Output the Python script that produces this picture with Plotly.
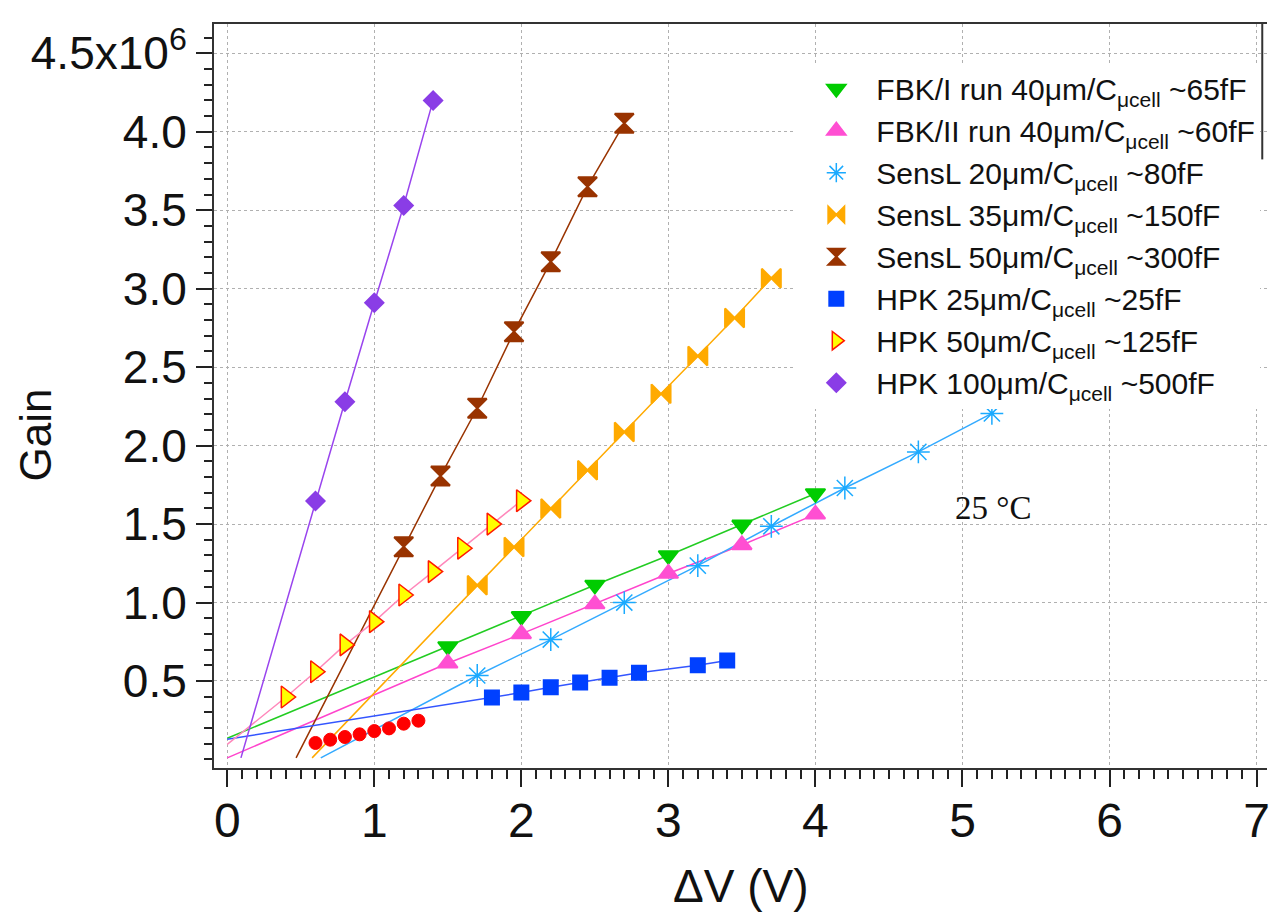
import plotly.graph_objects as go

SCALE = 1e6  # gain values below are given in units of 10^6

# ---------------- data ----------------
fbk1_x = [1.5, 2.0, 2.5, 3.0, 3.5, 4.0]
fbk1_y = [0.720, 0.912, 1.112, 1.300, 1.495, 1.695]

fbk2_x = [1.5, 2.0, 2.5, 3.0, 3.5, 4.0]
fbk2_y = [0.613, 0.800, 0.990, 1.185, 1.367, 1.562]

sensl20_x = [1.7, 2.2, 2.7, 3.2, 3.7, 4.2, 4.7, 5.2]
sensl20_y = [0.535, 0.764, 1.000, 1.235, 1.486, 1.730, 1.960, 2.205]

sensl35_x = [1.7, 1.95, 2.2, 2.45, 2.7, 2.95, 3.2, 3.45, 3.7]
sensl35_y = [1.110, 1.354, 1.599, 1.843, 2.087, 2.330, 2.571, 2.813, 3.067]

sensl50_x = [1.2, 1.45, 1.7, 1.95, 2.2, 2.45, 2.7]
sensl50_y = [1.356, 1.806, 2.238, 2.726, 3.172, 3.650, 4.054]

hpk25_x = [1.8, 2.0, 2.2, 2.4, 2.6, 2.8, 3.2, 3.4]
hpk25_y = [0.395, 0.426, 0.460, 0.490, 0.520, 0.553, 0.600, 0.630]

hpk50_x = [0.4, 0.6, 0.8, 1.0, 1.2, 1.4, 1.6, 1.8, 2.0]
hpk50_y = [0.398, 0.559, 0.730, 0.878, 1.048, 1.197, 1.346, 1.500, 1.649]

hpk100_x = [0.6, 0.8, 1.0, 1.2, 1.4]
hpk100_y = [1.647, 2.280, 2.910, 3.530, 4.200]

red_x = [0.6, 0.7, 0.8, 0.9, 1.0, 1.1, 1.2, 1.3]
red_y = [0.105, 0.126, 0.143, 0.160, 0.181, 0.198, 0.228, 0.247]

# start points of the fitted lines (series order as in legend)
fit_start_x = [0.0, 0.0, 0.636, 0.577, 0.468, 0.0, 0.0, 0.093]
fit_start_y = [0.135, 0.010, 0.010, 0.010, 0.010, 0.128, 0.096, 0.010]

names = [
    "FBK/I run 40μm/C<sub>μcell</sub> ~65fF",
    "FBK/II run 40μm/C<sub>μcell</sub> ~60fF",
    "SensL 20μm/C<sub>μcell</sub> ~80fF",
    "SensL 35μm/C<sub>μcell</sub> ~150fF",
    "SensL 50μm/C<sub>μcell</sub> ~300fF",
    "HPK 25μm/C<sub>μcell</sub> ~25fF",
    "HPK 50μm/C<sub>μcell</sub> ~125fF",
    "HPK 100μm/C<sub>μcell</sub> ~500fF",
]

xs = [fbk1_x, fbk2_x, sensl20_x, sensl35_x, sensl50_x, hpk25_x, hpk50_x, hpk100_x]
ys = [fbk1_y, fbk2_y, sensl20_y, sensl35_y, sensl50_y, hpk25_y, hpk50_y, hpk100_y]

# ---------------- styles ----------------
marker_styles = [
    dict(symbol="triangle-down", size=17, color="#00cc00", line=dict(color="#00cc00", width=2)),
    dict(symbol="triangle-up", size=17, color="#ff4fd2", line=dict(color="#ff4fd2", width=2)),
    dict(symbol="asterisk-open", size=19, color="#1aaaff", line=dict(color="#1aaaff", width=1.5)),
    dict(symbol="bowtie", size=19, color="#ffaa00", line=dict(color="#ffaa00", width=2)),
    dict(symbol="hourglass", size=19, color="#993300", line=dict(color="#993300", width=2)),
    dict(symbol="square", size=14, color="#0040ff", line=dict(color="#0040ff", width=2)),
    dict(symbol="triangle-right", size=19, color="#ffff00", line=dict(color="#ff1a00", width=1.5)),
    dict(symbol="diamond", size=14, color="#8a3de6", line=dict(color="#8a3de6", width=2)),
]
line_colors = ["#22cc22", "#ff44cc", "#33aaff", "#ffaa00", "#993300", "#3355ff", "#ff88bb", "#9944ee"]

FONT = "Liberation Sans, Arial, sans-serif"

fig = go.Figure()

# fit lines
for i in range(len(names)):
    lx = [fit_start_x[i]] + xs[i]
    ly = [v * SCALE for v in [fit_start_y[i]] + ys[i]]
    fig.add_trace(go.Scatter(x=lx, y=ly, mode="lines", showlegend=False,
                             line=dict(color=line_colors[i], width=1.5),
                             hoverinfo="skip"))

# unlabeled red series
fig.add_trace(go.Scatter(x=red_x, y=[v * SCALE for v in red_y], mode="markers",
                         showlegend=False,
                         marker=dict(symbol="circle", size=13, color="#ff0000",
                                     line=dict(color="#ff0000", width=1))))

# markers with legend
for i in range(len(names)):
    fig.add_trace(go.Scatter(x=xs[i], y=[v * SCALE for v in ys[i]], mode="markers",
                             name=names[i], legendgroup=f"g{i}",
                             marker=marker_styles[i]))

y_tickvals = [0.5, 1.0, 1.5, 2.0, 2.5, 3.0, 3.5, 4.0, 4.5]
y_ticktext = ["0.5", "1.0", "1.5", "2.0", "2.5", "3.0", "3.5", "4.0", "4.5x10<sup>6</sup>"]
x_tickvals = [0, 1, 2, 3, 4, 5, 6, 7]

fig.update_layout(
    width=1270, height=912,
    margin=dict(l=214, r=0, t=24, b=144),
    paper_bgcolor="white", plot_bgcolor="white",
    font=dict(family=FONT, color="#111111"),
    showlegend=True,
    legend=dict(
        x=0.553, y=0.948, xanchor="left", yanchor="top",
        bgcolor="white", borderwidth=0,
        font=dict(family=FONT, size=30, color="#111111"),
        traceorder="grouped", tracegroupgap=0,
        itemsizing="trace", itemwidth=70,
    ),
    xaxis=dict(
        range=[-0.0902, 7.071],
        tickmode="array", tickvals=x_tickvals,
        ticks="outside", ticklen=17, tickwidth=2, tickcolor="#222",
        showline=True, linecolor="#333", linewidth=2, mirror=True,
        showgrid=True, gridcolor="#b0b0b0", griddash="dot", gridwidth=1,
        zeroline=False,
        ticklabeloverflow="allow", ticklabelstandoff=-8,
        tickfont=dict(family=FONT, size=48, color="#111"),
        minor=dict(tickmode="linear", tick0=0, dtick=0.1, ticks="outside",
                   ticklen=9, tickwidth=1.5, tickcolor="#222", showgrid=False),
    ),
    yaxis=dict(
        range=[-0.0545 * SCALE, 4.687 * SCALE],
        tickmode="array", tickvals=[v * SCALE for v in y_tickvals], ticktext=y_ticktext,
        ticks="outside", ticklen=16, tickwidth=2, tickcolor="#222",
        showline=True, linecolor="#333", linewidth=2, mirror=False,
        showgrid=True, gridcolor="#b0b0b0", griddash="dot", gridwidth=1,
        zeroline=False,
        tickfont=dict(family=FONT, size=46, color="#111"),
        minor=dict(tickmode="linear", tick0=0, dtick=0.1 * SCALE, ticks="outside",
                   ticklen=8, tickwidth=1.5, tickcolor="#222", showgrid=False),
    ),
)

# partial right border (legend frame)
fig.add_shape(type="line", xref="paper", yref="paper", x0=0.9955, x1=0.9955, y0=0.818, y1=1.0,
              line=dict(color="#333", width=2))

# axis titles and annotation
fig.add_annotation(text="Gain", xref="paper", yref="paper", x=-0.1695, y=0.4476,
                   textangle=-90, showarrow=False, xanchor="center", yanchor="middle",
                   font=dict(family=FONT, size=44, color="#111"))
fig.add_annotation(text="ΔV (V)", xref="paper", yref="paper", x=0.5, y=-0.1586,
                   showarrow=False, xanchor="center", yanchor="middle",
                   font=dict(family=FONT, size=46, color="#111"))
fig.add_annotation(text="25 °C", x=5.21, y=1.6 * SCALE, showarrow=False,
                   xanchor="center", yanchor="middle",
                   font=dict(family="Liberation Serif, Times New Roman, serif", size=33, color="#111"))

fig.write_html("out.html")
